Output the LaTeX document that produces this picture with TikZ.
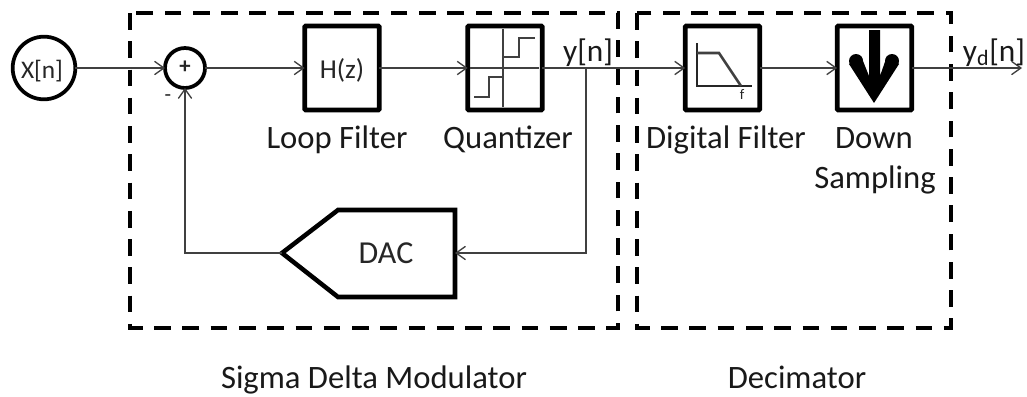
\documentclass[tikz,border=0pt]{standalone}
\usepackage{fontspec}
\setmainfont{Carlito}
\usetikzlibrary{arrows.meta}
\definecolor{wire}{gray}{0.25}
\tikzset{
  x=0.75pt,y=-0.75pt,
  every node/.style={inner sep=0pt,outer sep=0pt},
  blockbox/.style={draw=black,line width=3.6pt,rounded corners=0.8pt,fill=white,minimum width=56pt,minimum height=63pt},
  dashbox/.style={draw=black,line width=3.3pt,dash pattern=on 12.5pt off 8.7pt,line cap=butt},
  wireline/.style={draw=wire,line width=1.8pt,-{Straight Barb[length=7pt,width=10pt,line width=1pt]}},
  plainwire/.style={draw=wire,line width=1.8pt},
  circ/.style={circle,draw=black,line width=2.8pt,fill=white},
  lbl/.style={font=\fontsize{24.5pt}{28pt}\selectfont,text=black!90,anchor=base},
  inlbl/.style={font=\fontsize{19pt}{22pt}\selectfont,text=black!85,anchor=base},
  icon/.style={draw=black!75,line width=1.3pt}
}
\begin{document}
\begin{tikzpicture}
\useasboundingbox (0,0) rectangle (1027,396);
\fill[white] (0,0) rectangle (1027,396);
% dashed regions
\draw[dashbox] (130,13) rectangle (618,328);
\draw[dashbox] (637,13) rectangle (951,328);
% blocks
\node[circ,minimum size=47pt] (x) at (44,68) {};
\node[inlbl] (xl) at (42,78) {X[n]};
\node[circ,minimum size=30pt] (sum) at (185,68) {};
\node[font=\fontsize{17pt}{17pt}\selectfont\bfseries,text=black!85] (plus) at (185,67) {+};
\node[blockbox] (h) at (342,68) {};
\node[inlbl,font=\fontsize{20.5pt}{24pt}\selectfont] (hl) at (342,78) {H(z)};
\node[blockbox] (q) at (505,68) {};
\node[blockbox] (f) at (722.5,68) {};
\node[blockbox] (d) at (874.5,68) {};
\coordinate (tip) at (282,253);
\coordinate (tl) at (338,210);
\coordinate (tr) at (455,210);
\coordinate (br) at (455,297);
\coordinate (bl) at (338,297);
\coordinate (dacin) at (455,253);
\draw[black,line width=3.4pt,line join=miter,fill=white] (tip)--(tl)--(tr)--(br)--(bl)--cycle;
\node[inlbl,font=\fontsize{24pt}{26pt}\selectfont] (dac) at (386,263) {DAC};
\coordinate (branch) at (586,68);
\coordinate (fbcorner) at (185,253);
\coordinate (brdown) at (586,253);
\coordinate (out) at (1022,68);
% wires
\draw[wireline] (x.east) -- (sum.west);
\draw[wireline] (sum.east) -- (h.west);
\draw[wireline] (h.east) -- (q.west);
\draw[plainwire] (q.east) -- (branch);
\draw[wireline] (branch) -- (f.west);
\draw[wireline] (f.east) -- (d.west);
\draw[wireline] (d.east) -- (out);
\draw[wireline] (branch) -- (brdown) -- (dacin);
\draw[wireline] (tip) -- (fbcorner) -- (sum.south);
% quantizer icon
\draw[icon] (503,29) -- (503,107);
\draw[icon] (470,68) -- (539,68);
\draw[icon] (503,57) -- (519,57) -- (519,38) -- (535,38);
\draw[icon] (474,97) -- (489,97) -- (489,77) -- (503,77);
% filter icon
\draw[icon,draw=black!85] (697,43) -- (697,86) -- (752,86);
\draw[icon,line width=1.9pt] (697,53) -- (719,53) -- (741,86);
\node[font=\fontsize{11pt}{11pt}\selectfont,text=black!85,anchor=base] (fl) at (742,99) {f};
% down arrow
\fill[black] (869,30) -- (880,30) -- (880,76) -- (887,56) -- (899,64) -- (874,103) -- (849,64) -- (861,56) -- (869,76) -- cycle;
\fill[black] (856,61) circle[radius=7];
\fill[black] (892,61) circle[radius=7];
% labels
\node[lbl] (l1) at (337,148) {Loop Filter};
\node[lbl] (l2) at (508,148) {Quantizer};
\node[lbl] (l3) at (726,148) {Digital Filter};
\node[lbl] (l4) at (874,148) {Down};
\node[lbl] (l5) at (875,188) {Sampling};
\node[lbl] (l6) at (374,388) {Sigma Delta Modulator};
\node[lbl] (l7) at (797,388) {Decimator};
\node[lbl,font=\fontsize{23.5pt}{26pt}\selectfont] (yn) at (588,61) {y[n]};
\node[lbl,font=\fontsize{23.5pt}{26pt}\selectfont] (ydn) at (994,61) {y\textsubscript{d}[n]};
\node[font=\fontsize{16pt}{16pt}\selectfont,text=black!85] (minus) at (168,98) {-};
\end{tikzpicture}
\end{document}
